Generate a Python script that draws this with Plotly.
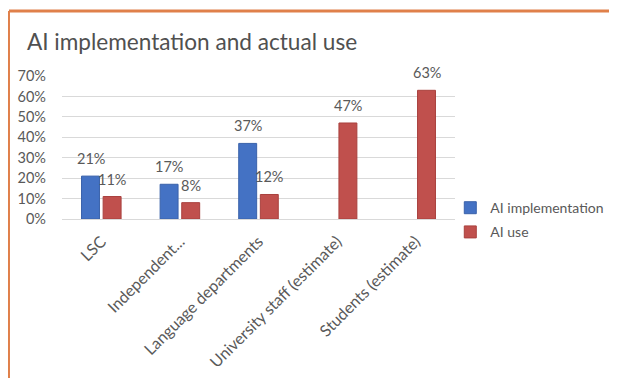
import plotly.graph_objects as go

categories = ["LSC", "Independent...", "Language departments",
              "University staff (estimate)", "Students (estimate)"]
ai_implementation = [0.21, 0.17, 0.37, None, None]
ai_use = [0.11, 0.08, 0.12, 0.47, 0.63]
y_ticks = [0, 0.1, 0.2, 0.3, 0.4, 0.5, 0.6, 0.7]

FONT = "Lato"
GREY = "#595959"

fig = go.Figure()
fig.add_trace(go.Bar(
    name="AI implementation", x=categories, y=ai_implementation,
    marker=dict(color="#4472C4", line=dict(color="#3a62aa", width=1)),
    legendgroup="a"))
fig.add_trace(go.Bar(
    name="AI use", x=categories, y=ai_use,
    marker=dict(color="#C0504D", line=dict(color="#a9413e", width=1)),
    legendgroup="b"))

# data labels placed above each bar through the axes
annotations = []
for series, shift in ((ai_implementation, -10.8), (ai_use, 10.8)):
    for cat, val in zip(categories, series):
        if val is None:
            continue
        annotations.append(dict(
            x=cat, y=val, xref="x", yref="y", text=f"{val:.0%}",
            showarrow=False, xshift=shift, yanchor="bottom", yshift=7,
            font=dict(family=FONT, size=14.5, color=GREY)))

fig.update_layout(
    width=609, height=370,
    paper_bgcolor="white", plot_bgcolor="white",
    margin=dict(l=54, r=162, t=68, b=159, autoexpand=False),
    font=dict(family=FONT, color=GREY, size=12),
    barmode="group", bargap=0.45, bargroupgap=0.17,
    title=dict(text="AI implementation and actual use", x=0.031, xanchor="left",
               y=0.908, yanchor="middle", font=dict(family=FONT, size=22.6, color="#505050")),
    showlegend=True,
    legend=dict(x=0.988, xanchor="left", y=0.188, yanchor="top",
                font=dict(family=FONT, size=14, color=GREY),
                tracegroupgap=3, bgcolor="rgba(0,0,0,0)"),
    xaxis=dict(tickangle=-45, showgrid=False, showline=True, linecolor="#d9d9d9",
               automargin=False, ticklabelstandoff=6,
               tickfont=dict(family=FONT, size=16, color=GREY)),
    yaxis=dict(range=[0, 0.7], tickvals=y_ticks, tickformat=".0%",
               showgrid=True, gridcolor="#d9d9d9", gridwidth=1, zeroline=False,
               showline=False, ticklabelstandoff=15, automargin=False,
               tickfont=dict(family=FONT, size=14.5, color=GREY)),
    annotations=annotations,
    shapes=[
        dict(type="line", xref="paper", yref="paper", x0=-0.1349, x1=1.6,
             y0=1.4545, y1=1.4545, line=dict(color="#E0804A", width=3)),
        dict(type="line", xref="paper", yref="paper", x0=-0.1349, x1=-0.1349,
             y0=1.4545, y1=-1.2, line=dict(color="#E0804A", width=2)),
    ],
)

fig.write_html("out.html")
